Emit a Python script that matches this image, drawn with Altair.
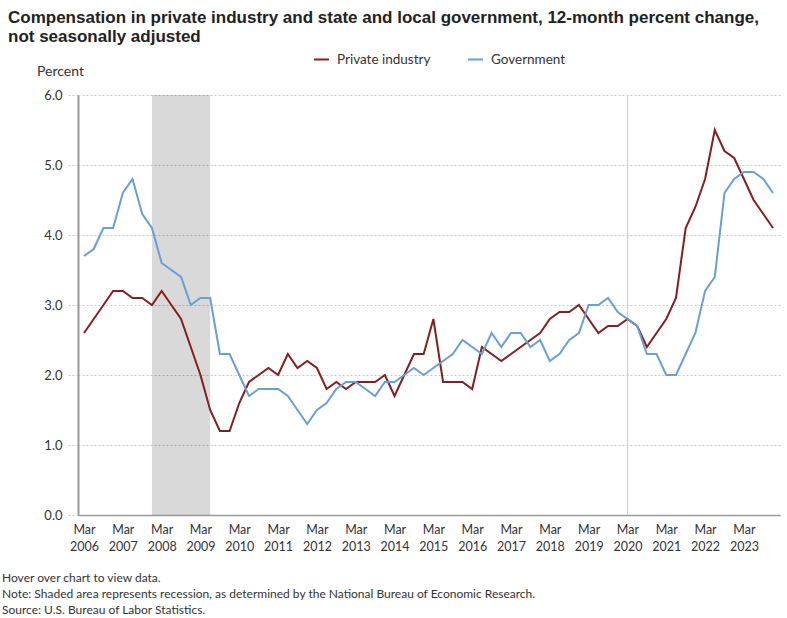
import altair as alt
import pandas as pd

# ---------------- data ----------------
years = list(range(2006, 2024))
months = ["Mar", "Jun", "Sep", "Dec"]
quarters = [f"{m} {y}" for y in years for m in months]

private_industry = [
    2.6, 2.8, 3.0, 3.2,
    3.2, 3.1, 3.1, 3.0,
    3.2, 3.0, 2.8, 2.4,
    2.0, 1.5, 1.2, 1.2,
    1.6, 1.9, 2.0, 2.1,
    2.0, 2.3, 2.1, 2.2,
    2.1, 1.8, 1.9, 1.8,
    1.9, 1.9, 1.9, 2.0,
    1.7, 2.0, 2.3, 2.3,
    2.8, 1.9, 1.9, 1.9,
    1.8, 2.4, 2.3, 2.2,
    2.3, 2.4, 2.5, 2.6,
    2.8, 2.9, 2.9, 3.0,
    2.8, 2.6, 2.7, 2.7,
    2.8, 2.7, 2.4, 2.6,
    2.8, 3.1, 4.1, 4.4,
    4.8, 5.5, 5.2, 5.1,
    4.8, 4.5, 4.3, 4.1,
]
government = [
    3.7, 3.8, 4.1, 4.1,
    4.6, 4.8, 4.3, 4.1,
    3.6, 3.5, 3.4, 3.0,
    3.1, 3.1, 2.3, 2.3,
    2.0, 1.7, 1.8, 1.8,
    1.8, 1.7, 1.5, 1.3,
    1.5, 1.6, 1.8, 1.9,
    1.9, 1.8, 1.7, 1.9,
    1.9, 2.0, 2.1, 2.0,
    2.1, 2.2, 2.3, 2.5,
    2.4, 2.3, 2.6, 2.4,
    2.6, 2.6, 2.4, 2.5,
    2.2, 2.3, 2.5, 2.6,
    3.0, 3.0, 3.1, 2.9,
    2.8, 2.7, 2.3, 2.3,
    2.0, 2.0, 2.3, 2.6,
    3.2, 3.4, 4.6, 4.8,
    4.9, 4.9, 4.8, 4.6,
]

series_names = ["Private industry", "Government"]
series_colors = ["#851f1f", "#6a9fd2"]

recession_start = "Dec 2007"
recession_end = "Jun 2009"
marker_quarter = "Mar 2020"

y_ticks = [0, 1, 2, 3, 4, 5, 6]
x_tick_quarters = [f"Mar {y}" for y in years]

title_lines = [
    "Compensation in private industry and state and local government, 12-month percent change,",
    "not seasonally adjusted",
]
y_title = "Percent"
notes = [
    "Hover over chart to view data.",
    "Note: Shaded area represents recession, as determined by the National Bureau of Economic Research.",
    "Source: U.S. Bureau of Labor Statistics.",
]

# ---------------- frames ----------------
rows = []
for name, vals in zip(series_names, [private_industry, government]):
    for i, (q, v) in enumerate(zip(quarters, vals)):
        rows.append({"idx": i, "quarter": q, "series": name, "value": v})
df = pd.DataFrame(rows)

rec_df = pd.DataFrame({
    "start": [quarters.index(recession_start)],
    "end": [quarters.index(recession_end)],
    "lo": [y_ticks[0]],
    "hi": [y_ticks[-1]],
})
mark_df = pd.DataFrame({"idx": [quarters.index(marker_quarter)]})

x_tick_vals = [quarters.index(q) for q in x_tick_quarters]

FONT = "Lato"
x_scale = alt.Scale(domain=[-0.62, 71.72], nice=False, zero=False)
y_scale = alt.Scale(domain=[0, 6], nice=False)

x_axis = alt.Axis(
    values=x_tick_vals,
    labelExpr="['Mar', '' + (2006 + floor(datum.value / 4))]",
    title=None, grid=False, ticks=False,
    domainColor="#9a9a9a", domainWidth=1.5,
    labelFont=FONT, labelFontSize=12.5, labelColor="#333",
    labelLineHeight=17, labelPadding=8, labelFlush=False,
)
y_axis = alt.Axis(
    values=y_ticks, format=".1f", title=None,
    gridColor="#c8c8c8", gridDash=[2, 2], gridWidth=1,
    tickSize=10, tickColor="#c8c8c8", tickDash=[2, 2],
    domainColor="#9a9a9a", domainWidth=2,
    labelFont=FONT, labelFontSize=13, labelColor="#333", labelPadding=6,
)

recession = alt.Chart(rec_df).mark_rect(color="#000", opacity=0.15).encode(
    x=alt.X("start:Q", scale=x_scale, axis=x_axis),
    x2="end:Q",
    y=alt.Y("lo:Q", scale=y_scale, axis=y_axis),
    y2="hi:Q",
)

marker = alt.Chart(mark_df).mark_rule(color="#c8c8c8", strokeWidth=1).encode(
    x=alt.X("idx:Q", scale=x_scale),
    y=alt.value(0),
    y2=alt.value(420),
)

lines = alt.Chart(df).mark_line(strokeWidth=2).encode(
    x=alt.X("idx:Q", scale=x_scale),
    y=alt.Y("value:Q", scale=y_scale),
    color=alt.Color(
        "series:N",
        scale=alt.Scale(domain=series_names, range=series_colors),
        legend=alt.Legend(
            orient="none", legendX=235, legendY=-44, direction="horizontal",
            title=None, symbolType="stroke", symbolSize=225, symbolStrokeWidth=2,
            labelFont=FONT, labelFontSize=13.5, labelColor="#333",
            columnPadding=33, labelOffset=7,
        ),
    ),
    order="idx:Q",
)


def text_layer(txt, x, y, size, weight="normal", font=FONT, color="#333"):
    return alt.Chart(pd.DataFrame({"t": [txt]})).mark_text(
        align="left", baseline="middle", fontSize=size, fontWeight=weight,
        font=font, color=color,
    ).encode(x=alt.value(x), y=alt.value(y), text="t:N")


texts = [
    text_layer(title_lines[0], -70, -77, 17, "bold", "Liberation Sans", "#222"),
    text_layer(title_lines[1], -70, -58, 17, "bold", "Liberation Sans", "#222"),
    text_layer(y_title, -41, -23, 14),
    text_layer(notes[0], -76, 483, 12),
    text_layer(notes[1], -76, 499, 12),
    text_layer(notes[2], -76, 515, 12),
]

chart = alt.layer(recession, marker, lines, *texts).properties(
    width=702, height=420,
    padding={"left": 78, "top": 95, "right": 7, "bottom": 103},
    autosize=alt.AutoSizeParams(type="none"),
    background="white",
).configure_view(stroke=None)

chart.save("out.html", embed_options={"renderer": "svg", "actions": False})
